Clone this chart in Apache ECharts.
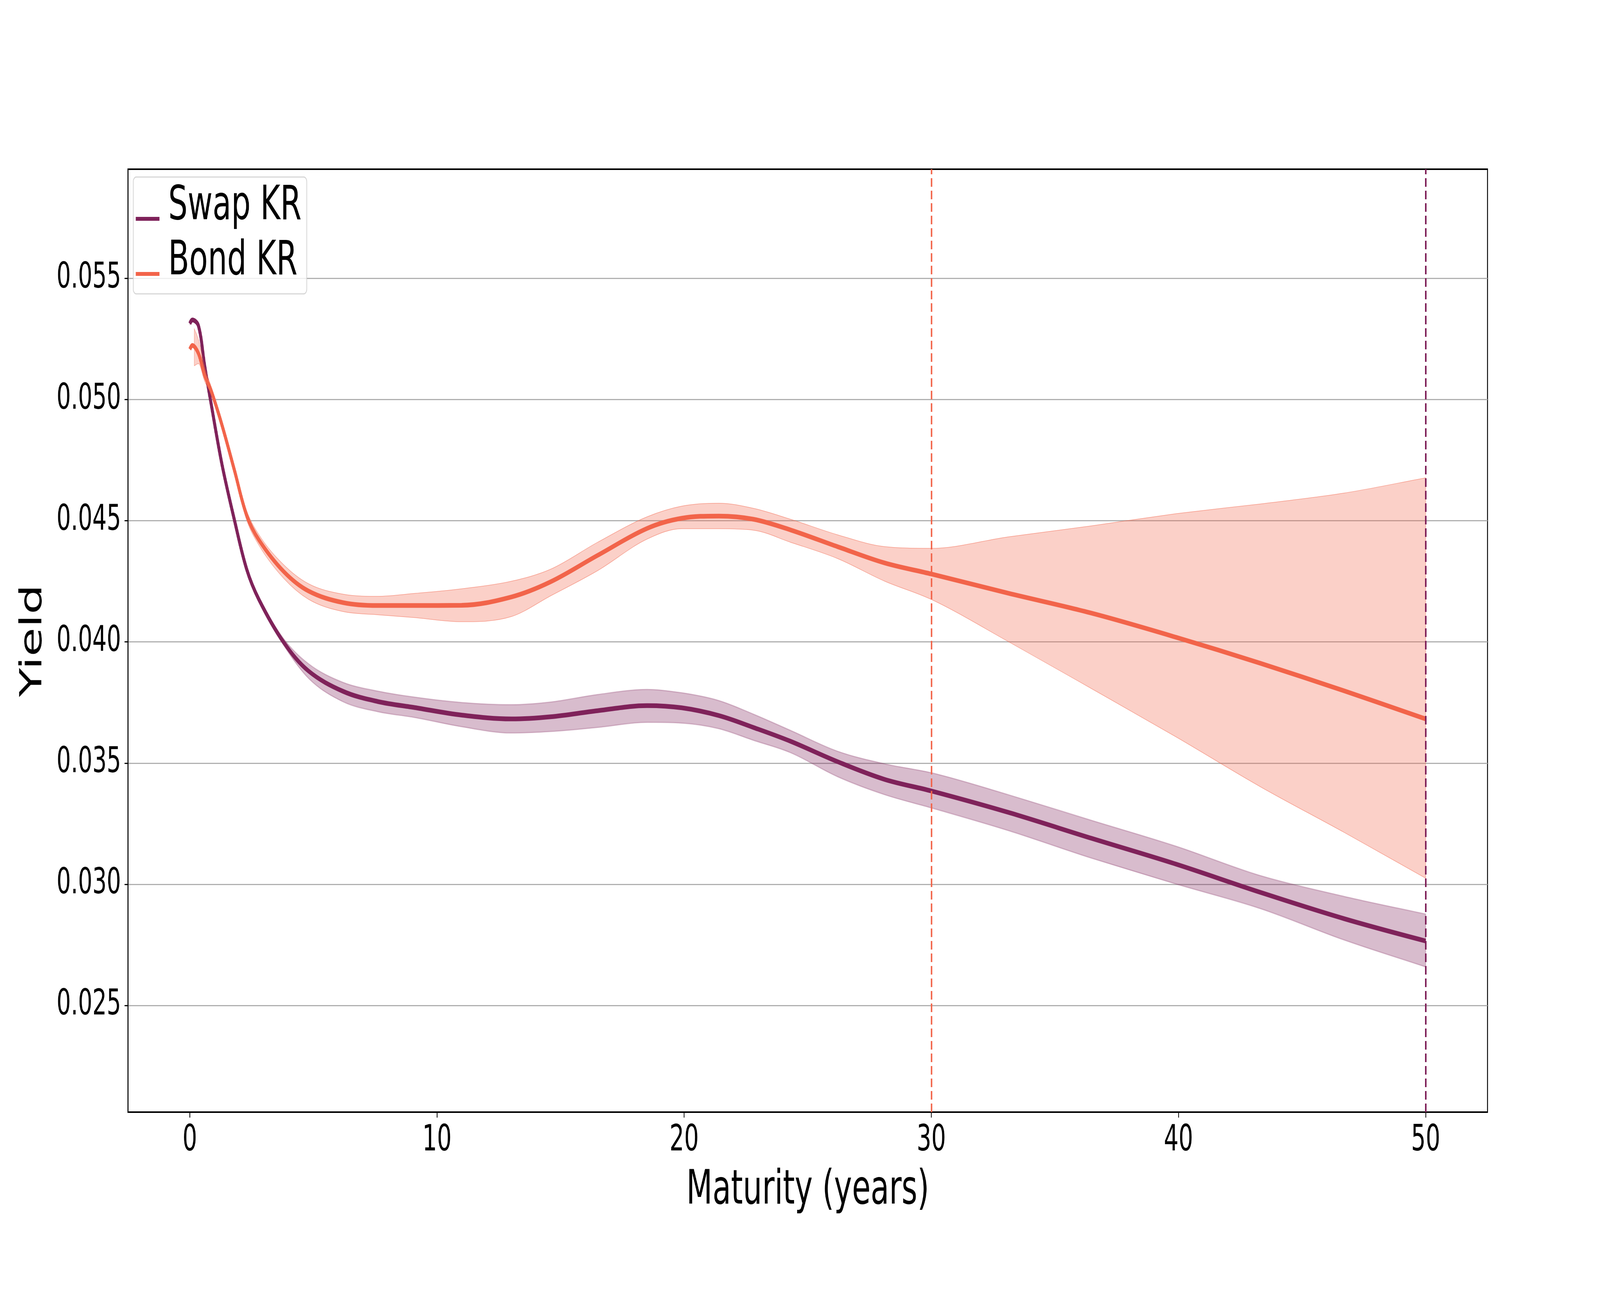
<!DOCTYPE html>
<html><head><meta charset="utf-8">
<script src="https://cdn.jsdelivr.net/npm/echarts@6/dist/echarts.min.js"></script>
<style>html,body{margin:0;padding:0;background:#fff;overflow:hidden}#c{position:absolute;left:0;top:0;width:6400px;height:3337px;transform-origin:0 0}</style>
</head><body><div id="c"></div>
<script>
// ---- data ----
const maturities = [0, 0.1, 0.35, 0.6, 0.85, 1.3, 1.8, 2.3, 2.8, 3.8, 4.8, 6.2, 7.6, 9.1, 11, 13, 14.6, 16.5, 18.5, 19.9, 21.4, 22.8, 24.3, 26.2, 28.1, 30, 33.1, 36.5, 39.9, 43.3, 46.7, 50];
const swapKR = [0.05313, 0.05328, 0.05304, 0.0514, 0.0499, 0.04733, 0.04505, 0.0430, 0.04174, 0.03998, 0.0388, 0.03796, 0.03754, 0.03729, 0.03698, 0.03682, 0.03691, 0.03716, 0.03737, 0.03728, 0.03696, 0.03647, 0.0359, 0.03506, 0.03433, 0.03385, 0.03297, 0.03189, 0.03083, 0.02967, 0.02858, 0.02766];
const swapLow = [0.0531, 0.05322, 0.05296, 0.0513, 0.0498, 0.04723, 0.04493, 0.04292, 0.04163, 0.03985, 0.0385, 0.03753, 0.03712, 0.03688, 0.0365, 0.03624, 0.0363, 0.03647, 0.03668, 0.03665, 0.03642, 0.03594, 0.03543, 0.03444, 0.0337, 0.03315, 0.03222, 0.03107, 0.03001, 0.029, 0.0277, 0.02659];
const swapHigh = [0.05316, 0.05334, 0.05312, 0.0515, 0.05, 0.04743, 0.04517, 0.04308, 0.04183, 0.04013, 0.0391, 0.03833, 0.03797, 0.03772, 0.0375, 0.03741, 0.03752, 0.03783, 0.03804, 0.0379, 0.03758, 0.03702, 0.03635, 0.03549, 0.03497, 0.0346, 0.0337, 0.03263, 0.03157, 0.03036, 0.0295, 0.02877];
const bondKR = [0.05207, 0.05223, 0.0519, 0.051, 0.0504, 0.04895, 0.0471, 0.04522, 0.0442, 0.0429, 0.0421, 0.04162, 0.0415, 0.0415, 0.04151, 0.04185, 0.04248, 0.04357, 0.04468, 0.0451, 0.04519, 0.04506, 0.04462, 0.04393, 0.04326, 0.0428, 0.04201, 0.04118, 0.04019, 0.03912, 0.03798, 0.03682];
const bondBandX = [0.18, 0.35, 0.6, 0.85, 1.3, 1.8, 2.3, 2.8, 3.8, 4.8, 6.2, 7.6, 9.1, 11, 13, 14.6, 16.5, 18.5, 19.9, 21.4, 22.8, 24.3, 26.2, 28.1, 30, 33.1, 36.5, 39.9, 43.3, 46.7, 50];
const bondLow = [0.05139, 0.05148, 0.05075, 0.05025, 0.0488, 0.04693, 0.04502, 0.04398, 0.04262, 0.04176, 0.04125, 0.04112, 0.041, 0.04083, 0.04104, 0.0419, 0.04294, 0.04424, 0.04467, 0.04467, 0.04461, 0.04411, 0.04344, 0.04251, 0.04175, 0.04002, 0.03806, 0.03608, 0.03403, 0.03214, 0.03025];
const bondHigh = [0.05292, 0.05247, 0.05135, 0.05058, 0.04912, 0.04728, 0.04542, 0.04442, 0.04318, 0.0424, 0.04197, 0.04188, 0.042, 0.04219, 0.0425, 0.043, 0.04411, 0.04516, 0.0456, 0.04572, 0.04551, 0.04506, 0.04442, 0.04393, 0.04386, 0.04433, 0.04479, 0.04529, 0.04569, 0.04614, 0.04677];
const xTicks = [0, 10, 20, 30, 40, 50];
const yTicks = [0.025, 0.030, 0.035, 0.040, 0.045, 0.050, 0.055];
const verticalLines = [30, 50];
const seriesNames = ['Swap KR', 'Bond KR'];
const colors = ['#7f225a', '#f2644a'];

// ---- fit the 6400x3337 drawing into whatever viewport the browser gives ----
const el = document.getElementById('c');
const VW = window.innerWidth || document.documentElement.clientWidth || 6400;
const VH = window.innerHeight || document.documentElement.clientHeight || 3337;
el.style.transform = 'scale(' + (VW / 6400) + ',' + (VH / 3337) + ')';

// ---- rendering helpers (pixel-space monotone smoothing of band edges) ----
function tangents(pt) {
  const n = pt.length, d = [], m = new Array(n);
  for (let i = 0; i < n - 1; i++) d.push((pt[i + 1][1] - pt[i][1]) / (pt[i + 1][0] - pt[i][0]));
  m[0] = d[0]; m[n - 1] = d[n - 2];
  for (let i = 1; i < n - 1; i++) m[i] = (d[i - 1] * d[i] <= 0) ? 0 : (d[i - 1] + d[i]) / 2;
  for (let i = 0; i < n - 1; i++) {
    if (d[i] === 0) { m[i] = 0; m[i + 1] = 0; continue; }
    const a = m[i] / d[i], b = m[i + 1] / d[i], s = a * a + b * b;
    if (s > 9) { const t = 3 / Math.sqrt(s); m[i] = t * a * d[i]; m[i + 1] = t * b * d[i]; }
  }
  return m;
}
function curve(pt, forward) {
  const m = tangents(pt); let s = '';
  if (forward) {
    for (let i = 0; i < pt.length - 1; i++) {
      const h = (pt[i + 1][0] - pt[i][0]) / 3;
      s += ' C' + (pt[i][0] + h) + ',' + (pt[i][1] + m[i] * h) + ' ' + (pt[i + 1][0] - h) + ',' + (pt[i + 1][1] - m[i + 1] * h) + ' ' + pt[i + 1][0] + ',' + pt[i + 1][1];
    }
  } else {
    for (let i = pt.length - 1; i > 0; i--) {
      const h = (pt[i][0] - pt[i - 1][0]) / 3;
      s += ' C' + (pt[i][0] - h) + ',' + (pt[i][1] - m[i] * h) + ' ' + (pt[i - 1][0] + h) + ',' + (pt[i - 1][1] + m[i - 1] * h) + ' ' + pt[i - 1][0] + ',' + pt[i - 1][1];
    }
  }
  return s;
}
function band(xs, lo, hi, fill, stroke, lw, z) {
  return {
    type: 'custom', silent: true, z: z, clip: true,
    data: xs.map((x, i) => [x, lo[i], hi[i]]),
    encode: { x: 0, y: [1, 2] },
    renderItem: function (params, api) {
      if (params.dataIndex !== 0) return null;
      const up = xs.map((x, i) => api.coord([x, hi[i]]));
      const dn = xs.map((x, i) => api.coord([x, lo[i]]));
      const last = dn[dn.length - 1];
      const d = 'M' + up[0][0] + ',' + up[0][1] + curve(up, true) + ' L' + last[0] + ',' + last[1] + curve(dn, false) + ' Z';
      return { type: 'path', shape: { pathData: d }, style: { fill: fill, stroke: stroke, lineWidth: lw } };
    }
  };
}

const FONT = 'DejaVu Sans';
// legend handle: a line drawn a little below the text centre, as matplotlib does
const HANDLE = 'path://M0,62 H95 V72 H0 Z M0,0 H0.01 V0.01 H0 Z';
const chart = echarts.init(el, null, { renderer: 'canvas', width: 6400, height: 3337 });
chart.setOption({
  animation: false,
  backgroundColor: '#ffffff',
  grid: { left: 512, right: 450, top: 433, bottom: 491, show: true, borderColor: '#000', borderWidth: 4, backgroundColor: 'transparent' },
  legend: {
    data: seriesNames, orient: 'vertical', left: 533, top: 453,
    padding: [14, 21, 20, 10], itemGap: 17, itemWidth: 95, itemHeight: 72, icon: HANDLE,
    textStyle: { fontSize: 122, fontFamily: FONT, color: '#000', lineHeight: 124, padding: [0, 0, 0, 30] },
    backgroundColor: 'rgba(255,255,255,0.8)', borderColor: 'rgba(204,204,204,0.8)', borderWidth: 3, borderRadius: 12
  },
  xAxis: {
    type: 'value', min: -2.5, max: 52.5,
    name: 'Maturity (years)', nameLocation: 'middle', nameGap: 142,
    nameTextStyle: { fontSize: 121, fontFamily: FONT, color: '#000' },
    axisLine: { show: true, onZero: false, lineStyle: { color: '#000', width: 4 } },
    axisTick: { show: true, inside: false, length: 14, customValues: xTicks, lineStyle: { color: '#000', width: 3 } },
    axisLabel: { show: true, customValues: xTicks, margin: 28, fontSize: 92, fontFamily: FONT, color: '#000', formatter: v => String(v) },
    splitLine: { show: false }
  },
  yAxis: {
    type: 'value', min: 0.0206, max: 0.0595,
    name: 'Yield', nameLocation: 'middle', nameGap: 318, nameRotate: 90,
    nameTextStyle: { fontSize: 121, fontFamily: FONT, color: '#000' },
    axisLine: { show: true, onZero: false, lineStyle: { color: '#000', width: 4 } },
    axisTick: { show: true, inside: false, length: 14, customValues: yTicks, lineStyle: { color: '#000', width: 3 } },
    axisLabel: { show: true, customValues: yTicks, margin: 28, fontSize: 90, fontFamily: FONT, color: '#000', formatter: v => v.toFixed(3) },
    splitLine: { show: true, lineStyle: { color: '#b0b0b0', width: 3 } }
  },
  series: [
    band(maturities, swapLow, swapHigh, 'rgba(127,34,90,0.3)', 'rgba(127,34,90,0.25)', 3, 1),
    {
      name: seriesNames[0], type: 'line', z: 2, symbol: 'none', smooth: 0.35,
      data: maturities.map((x, i) => [x, swapKR[i]]),
      itemStyle: { color: colors[0] }, lineStyle: { color: colors[0], width: 12 }
    },
    band(bondBandX, bondLow, bondHigh, 'rgba(242,100,74,0.3)', 'rgba(242,100,74,0.55)', 1.5, 3),
    {
      name: seriesNames[1], type: 'line', z: 4, symbol: 'none', smooth: 0.35,
      data: maturities.map((x, i) => [x, bondKR[i]]),
      itemStyle: { color: colors[1] }, lineStyle: { color: colors[1], width: 12 },
      markLine: {
        silent: true, symbol: ['none', 'none'], label: { show: false }, animation: false,
        data: verticalLines.map((v, i) => ({ xAxis: v, lineStyle: { color: colors[1 - i], type: [22, 10], width: 6 } }))
      }
    }
  ]
});
</script>
</body></html>
